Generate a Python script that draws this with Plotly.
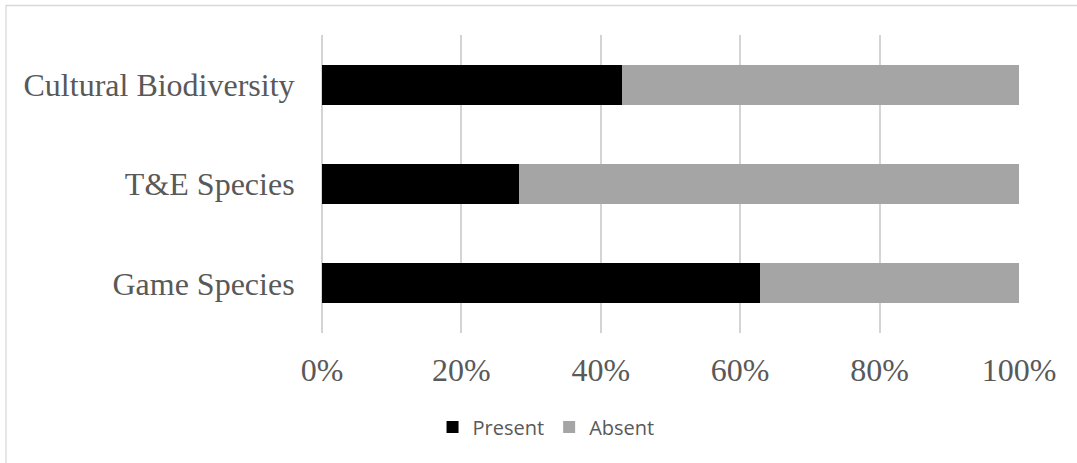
import plotly.graph_objects as go

categories = ["Game Species", "T&E Species", "Cultural Biodiversity"]
present = [62.9, 28.3, 43.1]
absent = [37.1, 71.7, 56.9]
x_ticks = [0, 20, 40, 60, 80, 100]
x_tick_labels = ["0%", "20%", "40%", "60%", "80%", "100%"]

W, H = 1077, 463
L, R, T, B = 322, 58, 35, 130
pw, ph = W - L - R, H - T - B

fig = go.Figure()
fig.add_trace(go.Bar(y=categories, x=present, name="Present", orientation="h",
                     marker=dict(color="#000000", line=dict(width=0))))
fig.add_trace(go.Bar(y=categories, x=absent, name="Absent", orientation="h",
                     marker=dict(color="#a5a5a5", line=dict(width=0))))

serif = "Liberation Serif, Times New Roman, serif"
fig.update_layout(
    width=W, height=H, barmode="stack", bargap=0.6,
    margin=dict(l=L, r=R, t=T, b=B, autoexpand=False),
    paper_bgcolor="white", plot_bgcolor="white",
    showlegend=True,
    legend=dict(orientation="h", xref="container", yref="container",
                x=0.507, y=0.078, xanchor="center", yanchor="middle",
                font=dict(family="Open Sans, sans-serif", size=20, color="#595959"),
                traceorder="normal"),
    xaxis=dict(range=[0, 100], tickmode="array", tickvals=x_ticks, ticktext=x_tick_labels,
               showgrid=True, gridcolor="#d4d4d4", gridwidth=1.5,
               zeroline=True, zerolinecolor="#d4d4d4", zerolinewidth=1.5,
               showline=False, ticks="outside", ticklen=9, tickcolor="rgba(0,0,0,0)",
               tickfont=dict(family=serif, size=32, color="#595959"), fixedrange=True),
    yaxis=dict(showgrid=False, showline=False, ticks="outside", ticklen=20,
               tickcolor="rgba(0,0,0,0)",
               tickfont=dict(family=serif, size=32, color="#595959"),
               categoryorder="array", categoryarray=categories),
    shapes=[dict(type="rect", xref="paper", yref="paper",
                 x0=(6 - L) / pw, x1=(W + 5 - L) / pw,
                 y0=(T + ph - (H + 5)) / ph, y1=(T + ph - 5.5) / ph,
                 line=dict(color="#d9d9d9", width=1.3), fillcolor="rgba(0,0,0,0)",
                 layer="below")],
)

fig.write_html("out.html")
